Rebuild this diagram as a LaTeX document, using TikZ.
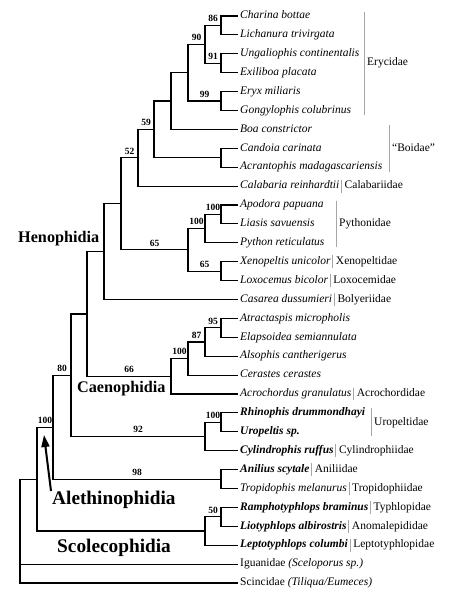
\documentclass[tikz,border=0pt]{standalone}
\usepackage{fontspec}
\setmainfont{Liberation Serif}
\usetikzlibrary{arrows.meta, positioning}

\newcommand{\leafsize}{\fontsize{11.5}{13}\selectfont}
\newcommand{\bootsize}{\fontsize{9.5}{11}\selectfont}

\begin{document}
\begin{tikzpicture}[
    x=1pt, y=-1pt,
    branch/.style={draw, line width=1.1pt},
    leaf/.style={anchor=west, inner sep=2pt, text height=8pt, text depth=2.5pt, font=\leafsize\itshape},
    bleaf/.style={leaf, font=\leafsize\bfseries\itshape},
    fam/.style={inner xsep=3pt, inner ysep=1pt, text height=8pt, text depth=2.5pt, font=\leafsize},
    bar/.style={draw=gray!70, line width=0.8pt},
    boot/.style={pos=.75, above, inner xsep=1pt, inner ysep=3pt, font=\bootsize\bfseries},
    clade/.style={anchor=west, inner sep=0pt, font=\fontsize{16.2}{18}\selectfont\bfseries},
    bigclade/.style={anchor=west, inner sep=0pt, font=\fontsize{19.3}{21}\selectfont\bfseries},
    bigarrow/.style={-{Triangle[length=12pt, width=8pt]}, line width=2pt},
]
    \useasboundingbox (0,0) rectangle (463,596);

    % Leaves
    \node[leaf] (charina)   at (238, 16.0)  {Charina bottae};
    \node[leaf] (lichanura) at (238, 34.9)  {Lichanura trivirgata};
    \node[leaf] (ungal)     at (238, 53.8)  {Ungaliophis continentalis};
    \node[leaf] (exiliboa)  at (238, 72.7)  {Exiliboa placata};
    \node[leaf] (eryx)      at (238, 91.6)  {Eryx miliaris};
    \node[leaf] (gongy)     at (238, 110.5) {Gongylophis colubrinus};
    \node[leaf] (boa)       at (238, 129.4) {Boa constrictor};
    \node[leaf] (candoia)   at (238, 148.3) {Candoia carinata};
    \node[leaf] (acrant)    at (238, 167.2) {Acrantophis madagascariensis};
    \node[leaf] (calab)     at (238, 186.1) {Calabaria reinhardtii};
    \node[leaf] (apodora)   at (238, 205.0) {Apodora papuana};
    \node[leaf] (liasis)    at (238, 223.9) {Liasis savuensis};
    \node[leaf] (python)    at (238, 242.8) {Python reticulatus};
    \node[leaf] (xenop)     at (238, 261.7) {Xenopeltis unicolor};
    \node[leaf] (loxo)      at (238, 280.6) {Loxocemus bicolor};
    \node[leaf] (casarea)   at (238, 299.5) {Casarea dussumieri};
    \node[leaf] (atract)    at (238, 318.4) {Atractaspis micropholis};
    \node[leaf] (elaps)     at (238, 337.3) {Elapsoidea semiannulata};
    \node[leaf] (alsoph)    at (238, 356.2) {Alsophis cantherigerus};
    \node[leaf] (cerast)    at (238, 375.1) {Cerastes cerastes};
    \node[leaf] (acroch)    at (238, 394.0) {Acrochordus granulatus};
    \node[bleaf] (rhino)    at (238, 412.9) {Rhinophis drummondhayi};
    \node[bleaf] (uropel)   at (238, 431.8) {Uropeltis sp.};
    \node[bleaf] (cylin)    at (238, 450.7) {Cylindrophis ruffus};
    \node[bleaf] (anilius)  at (238, 469.6) {Anilius scytale};
    \node[leaf] (tropid)    at (238, 488.5) {Tropidophis melanurus};
    \node[bleaf] (rampho)   at (238, 507.4) {Ramphotyphlops braminus};
    \node[bleaf] (lioty)    at (238, 526.3) {Liotyphlops albirostris};
    \node[bleaf] (lepto)    at (238, 545.2) {Leptotyphlops columbi};
    \node[leaf] (iguan)     at (238, 564.1) {\upshape Iguanidae \itshape(Sceloporus sp.)};
    \node[leaf] (scinc)     at (238, 583.0) {\upshape Scincidae \itshape(Tiliqua/Eumeces)};

    % Internal nodes
    \coordinate (b86)   at (221, 25.45);
    \coordinate (b91)   at (221, 63.25);
    \coordinate (b90)   at (205, 44.35);
    \coordinate (b99)   at (221, 101.05);
    \coordinate (ery)   at (188, 72.7);
    \coordinate (boaA)  at (171, 101.05);
    \coordinate (cand)  at (221, 157.75);
    \coordinate (b59)   at (154, 129.4);
    \coordinate (b52)   at (138, 157.75);
    \coordinate (pyA)   at (221, 214.45);
    \coordinate (py)    at (205, 228.6);
    \coordinate (xen)   at (221, 271.15);
    \coordinate (b65)   at (188, 249.9);
    \coordinate (hA)    at (121, 203.8);
    \coordinate (hen)   at (104, 251.65);
    \coordinate (c95)   at (221, 327.85);
    \coordinate (c87)   at (205, 342.0);
    \coordinate (c100)  at (188, 358.55);
    \coordinate (caeno) at (171, 376.3);
    \coordinate (core)  at (87, 313.95);
    \coordinate (uro)   at (221, 422.35);
    \coordinate (n92)   at (205, 436.5);
    \coordinate (n80)   at (71, 375.2);
    \coordinate (n98)   at (221, 479.05);
    \coordinate (aleth) at (53, 427.1);
    \coordinate (s50)   at (221, 516.85);
    \coordinate (scol)  at (205, 531.0);
    \coordinate (ingr)  at (37, 479.05);
    \coordinate (root)  at (20, 531.0);

    % Boas
    \draw[branch] (b86) |- (charina.west) (b86) |- (lichanura.west);
    \draw[branch] (b91) |- (ungal.west) (b91) |- (exiliboa.west);
    \draw[branch] (b99) |- (eryx.west) (b99) |- (gongy.west);
    \draw[branch] (b90) |- node[boot] {86} (b86) (b90) |- node[boot] {91} (b91);
    \draw[branch] (ery) |- node[boot] {90} (b90) (ery) |- node[boot] {99} (b99);
    \draw[branch] (boaA) |- (ery) (boaA) |- (boa.west);
    \draw[branch] (cand) |- (candoia.west) (cand) |- (acrant.west);
    \draw[branch] (b59) |- (boaA) (b59) |- (cand);
    \draw[branch] (b52) |- node[boot] {59} (b59) (b52) |- (calab.west);

    % Pythons and relatives
    \draw[branch] (pyA) |- (apodora.west) (pyA) |- (liasis.west);
    \draw[branch] (py) |- node[boot] {100} (pyA) (py) |- (python.west);
    \draw[branch] (xen) |- (xenop.west) (xen) |- (loxo.west);
    \draw[branch] (b65) |- node[boot] {100} (py) (b65) |- node[boot] {65} (xen);
    \draw[branch] (hA) |- node[boot] {52} (b52) (hA) |- node[boot] {65} (b65);
    \draw[branch] (hen) |- (hA) (hen) |- (casarea.west);

    % Caenophidia
    \draw[branch] (c95) |- (atract.west) (c95) |- (elaps.west);
    \draw[branch] (c87) |- node[boot] {95} (c95) (c87) |- (alsoph.west);
    \draw[branch] (c100) |- node[boot] {87} (c87) (c100) |- (cerast.west);
    \draw[branch] (caeno) |- node[boot] {100} (c100) (caeno) |- (acroch.west);
    \draw[branch] (core) |- (hen) (core) |- node[boot] {66} (caeno);

    % Basal alethinophidians
    \draw[branch] (uro) |- (rhino.west) (uro) |- (uropel.west);
    \draw[branch] (n92) |- node[boot] {100} (uro) (n92) |- (cylin.west);
    \draw[branch] (n80) |- (core) (n80) |- node[boot] {92} (n92);
    \draw[branch] (n98) |- (anilius.west) (n98) |- (tropid.west);
    \draw[branch] (aleth) |- node[boot] {80} (n80) (aleth) |- node[boot] {98} (n98);

    % Scolecophidia and outgroups
    \draw[branch] (s50) |- (rampho.west) (s50) |- (lioty.west);
    \draw[branch] (scol) |- node[boot] {50} (s50) (scol) |- (lepto.west);
    \draw[branch] (ingr) |- node[boot] {100} (aleth) (ingr) |- (scol);
    \draw[branch] (root) |- (ingr) (root) |- (iguan.west) (root) |- (scinc.west);

    % Families
    \node[fam, anchor=west] (eryF) at (364, 63.25) {Erycidae};
    \node[fam, anchor=west] (boidF) at (389, 148.3) {``Boidae''};
    \node[fam, anchor=west] (pyF) at (336, 223.9) {Pythonidae};
    \node[fam, anchor=west] (uroF) at (371, 422.35) {Uropeltidae};
    \draw[bar] ([yshift=-3pt]eryF.west |- charina.north) -- ([yshift=3pt]eryF.west |- gongy.south);
    \draw[bar] ([yshift=-3pt]boidF.west |- boa.north) -- ([yshift=3pt]boidF.west |- acrant.south);
    \draw[bar] ([yshift=-3pt]pyF.west |- apodora.north) -- ([yshift=3pt]pyF.west |- python.south);
    \draw[bar] ([yshift=-3pt]uroF.west |- rhino.north) -- ([yshift=3pt]uroF.west |- uropel.south);

    \node[fam, right=0pt of calab] (calabF) {Calabariidae};
    \node[fam, right=0pt of xenop] (xenF) {Xenopeltidae};
    \node[fam, right=0pt of loxo] (loxF) {Loxocemidae};
    \node[fam, right=0pt of casarea] (bolF) {Bolyeriidae};
    \node[fam, right=0pt of acroch] (acrF) {Acrochordidae};
    \node[fam, right=0pt of cylin] (cylF) {Cylindrophiidae};
    \node[fam, right=0pt of anilius] (aniF) {Aniliidae};
    \node[fam, right=0pt of tropid] (troF) {Tropidophiidae};
    \node[fam, right=0pt of rampho] (typF) {Typhlopidae};
    \node[fam, right=0pt of lioty] (anoF) {Anomalepididae};
    \node[fam, right=0pt of lepto] (lepF) {Leptotyphlopidae};
    \foreach \f in {calabF, xenF, loxF, bolF, acrF, cylF, aniF, troF, typF, anoF, lepF}
        \draw[bar] (\f.north west) -- (\f.south west);

    % Major clades
    \node[clade] (henoT) at (18, 239) {Henophidia};
    \node[clade] (caenoT) at (77, 389) {Caenophidia};
    \node[bigclade] (aletT) at (52, 500) {Alethinophidia};
    \node[bigclade] (scolT) at (57, 548) {Scolecophidia};
    \coordinate (aletTip) at (44, 435);
    \draw[bigarrow] ([xshift=-1pt]aletT.north west) -- (aletTip);
\end{tikzpicture}
\end{document}
